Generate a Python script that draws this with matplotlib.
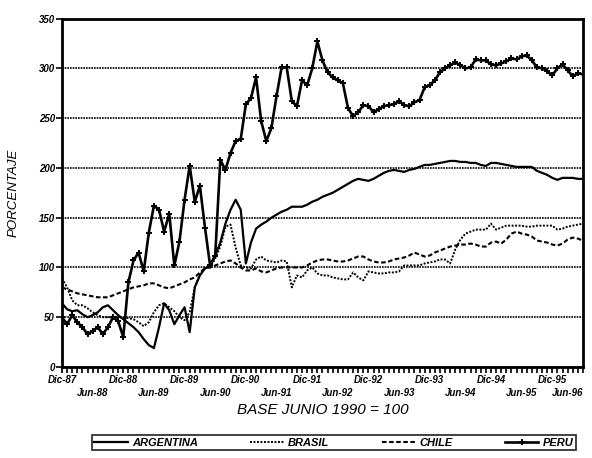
import numpy as np
import matplotlib
matplotlib.use("Agg")
import matplotlib.pyplot as plt

plt.rcParams['font.family'] = ['Liberation Sans', 'DejaVu Sans']

# monthly index numbers, Dic-87 .. Jun-96 (base junio 1990 = 100)
argentina = [64, 58, 56, 57, 53, 50, 52, 55, 60, 62, 57, 52, 48,
             44, 40, 35, 28, 22, 19, 40, 64, 57, 43, 52, 60, 35, 80, 92, 99,
             102, 112, 125, 144, 158, 168, 158, 104, 125, 139, 143, 146, 150,
             153, 156, 158, 161, 161, 161, 163, 166, 168, 171, 173, 175, 178,
             181, 184, 187, 189, 188, 187, 189, 192, 195, 197, 198, 197, 196,
             198, 199, 201, 203, 203, 204, 205, 206, 207, 207, 206, 206, 205,
             205, 203, 202, 205, 205, 204, 203, 202, 201, 201, 201, 201, 197,
             195, 193, 190, 188, 190, 190, 190, 189, 189]
brasil = [89, 80, 67, 62, 62, 59, 55, 52, 50, 50, 50, 50, 50,
          49, 48, 45, 41, 45, 55, 62, 64, 60, 56, 50, 47, 55, 80, 93, 100,
          100, 109, 121, 141, 143, 120, 102, 100, 99, 108, 111, 107, 106,
          105, 107, 106, 80, 92, 90, 97, 100, 94, 92, 92, 90, 89,
          88, 88, 95, 90, 87, 96, 95, 94, 94, 95, 95, 96, 102,
          102, 102, 102, 104, 105, 106, 108, 108, 104, 118, 128, 134, 136,
          138, 138, 138, 144, 138, 140, 142, 142, 142, 142, 141, 141, 142,
          142, 142, 142, 138, 139, 141, 142, 143, 144]
chile = [80, 78, 76, 74, 73, 72, 71, 70, 70, 70, 72, 74, 76,
         78, 80, 81, 82, 84, 84, 82, 80, 79, 81, 83, 85, 88, 90, 95, 99,
         100, 102, 104, 106, 107, 104, 100, 97, 97, 99, 96, 95, 97,
         99, 100, 100, 100, 100, 100, 102, 105, 107, 108, 108, 107, 106,
         106, 107, 109, 111, 111, 108, 106, 105, 105, 106, 108, 109, 110,
         112, 115, 113, 111, 112, 115, 117, 119, 121, 122, 123, 123, 124,
         123, 121, 121, 125, 126, 124, 128, 134, 136, 134, 133, 131, 127,
         126, 125, 123, 122, 124, 128, 130, 129, 127]
peru = [50, 43, 52, 45, 40, 33, 36, 40, 33, 40, 50, 46, 30,
        85, 107, 115, 96, 135, 162, 158, 136, 154, 102, 126, 168, 202, 166,
        182, 140, 102, 112,
        208, 198, 215, 227, 229, 264, 270, 291, 247, 227, 240, 272, 301,
        301, 267, 262, 288, 283, 300, 327,
        308, 296, 291, 288, 285, 260, 252, 256, 263, 262, 256, 259, 262,
        263, 264, 267, 263, 262, 266, 268, 281, 283, 288, 296, 300, 303,
        306, 303, 300, 301, 309, 308, 308, 304, 303, 305, 307, 310, 309,
        312, 313, 308, 301, 300, 297, 293, 300, 304, 298, 292, 295, 294]

dic_labels = ['Dic-87', 'Dic-88', 'Dic-89', 'Dic-90', 'Dic-91', 'Dic-92',
              'Dic-93', 'Dic-94', 'Dic-95']
jun_labels = ['Jun-88', 'Jun-89', 'Jun-90', 'Jun-91', 'Jun-92', 'Jun-93',
              'Jun-94', 'Jun-95', 'Jun-96']

x = np.arange(len(peru))

fig = plt.figure(figsize=(5.92, 4.58), dpi=100)
ax = fig.add_axes([0.1047, 0.1987, 0.880, 0.7607])

ax.plot(x, argentina, color='black', lw=1.6, label='ARGENTINA')
ax.plot(x, brasil, color='black', lw=1.4, ls=(0, (1, 0.8)), label='BRASIL')
ax.plot(x, chile, color='black', lw=1.5, ls=(0, (2.2, 1.2)), label='CHILE')
ax.plot(x, peru, color='black', lw=1.9, marker='+', ms=4, mew=1.4,
        label='PERU')

ax.set_xlim(0, len(peru) - 1)
ax.set_ylim(0, 350)
ax.set_yticks(range(0, 351, 50))
ax.yaxis.grid(True, color='black', ls=(0, (1, 0.6)), lw=1.2)
ax.set_axisbelow(True)

tick_font = {'size': 7, 'weight': 'bold', 'style': 'italic'}
dic_pos = np.arange(0, len(peru), 12)
ax.set_xticks(dic_pos)
ax.set_xticklabels(dic_labels)
ax.set_xticks(x, minor=True)
ax.tick_params(axis='x', which='both', length=4, width=1.2, pad=2)
ax.tick_params(axis='y', length=4, width=1.2, pad=1)
for lab in ax.get_xticklabels() + ax.get_yticklabels():
    lab.set_fontsize(7)
    lab.set_fontweight('bold')
    lab.set_fontstyle('italic')

# second (staggered) row of month labels
trans = ax.get_xaxis_transform()
for i, lab in enumerate(jun_labels):
    pos = 6 + 12 * i
    ha = 'right' if pos >= len(peru) - 1 else 'center'
    ax.text(pos, -0.076, lab, transform=trans, ha=ha, va='center',
            fontdict=tick_font)

for sp in ax.spines.values():
    sp.set_linewidth(2)

ax.set_ylabel('PORCENTAJE', fontsize=9.5, fontstyle='italic', labelpad=14)
ax.set_xlabel('BASE JUNIO 1990 = 100', fontsize=11, fontstyle='italic',
              labelpad=13)

leg = fig.legend(loc='lower left', ncol=4, mode='expand',
                 bbox_to_anchor=(86 / 592, 2 / 458, 496 / 592, 21 / 458),
                 frameon=True, fancybox=False, edgecolor='black',
                 handlelength=3, borderpad=0.25, handletextpad=0.4,
                 prop={'size': 8, 'weight': 'bold', 'style': 'italic'})
leg.get_frame().set_linewidth(1.3)

fig.savefig('out.png', dpi=100)
